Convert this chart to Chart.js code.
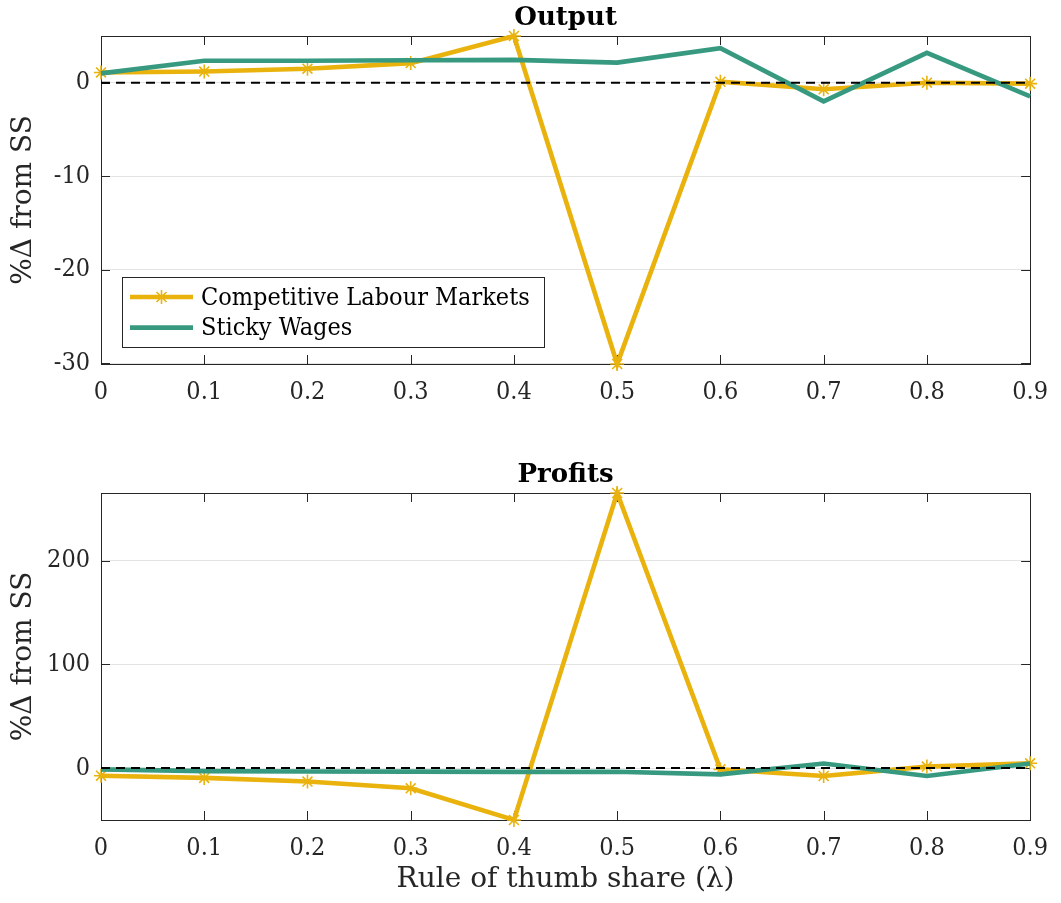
<!DOCTYPE html>
<html>
<head>
<meta charset="utf-8">
<script src="https://cdn.jsdelivr.net/npm/chart.js@4.4.1/dist/chart.umd.min.js"></script>
<style>
  html, body { margin: 0; padding: 0; background: #ffffff; }
  #wrap { position: relative; width: 1061px; height: 903px; overflow: hidden; }
  canvas { position: absolute; left: 0; }
  #outputChart { top: 0; }
  #profitsChart { top: 457px; }
</style>
</head>
<body>
<div id="wrap">
  <canvas id="outputChart" width="1061" height="457"></canvas>
  <canvas id="profitsChart" width="1061" height="446"></canvas>
</div>
<script>
// Rule-of-thumb share on the horizontal axis
const lambdaLabels = ['0', '0.1', '0.2', '0.3', '0.4', '0.5', '0.6', '0.7', '0.8', '0.9'];

// Output, % change from steady state
const outputCompetitive = [1.1, 1.2, 1.5, 2.1, 5.0, -30.1, 0.1, -0.7, 0.0, -0.1];
const outputSticky      = [1.0, 2.35, 2.35, 2.4, 2.45, 2.15, 3.7, -2.0, 3.2, -1.45];

// Profits, % change from steady state
const profitsCompetitive = [-7.4, -9.5, -13.0, -19.5, -50.1, 265.2, -1.3, -7.6, 1.4, 4.6];
const profitsSticky      = [-1.3, -3.0, -3.3, -3.5, -3.7, -3.6, -6.1, 4.4, -7.6, 4.3];

// Steady-state reference line
const steadyState = [0, 0, 0, 0, 0, 0, 0, 0, 0, 0];

// Tick steps for the two value axes
const outputStep = 10;
const profitsStep = 100;

const SERIF_C = '"DejaVu Serif Condensed", "DejaVu Serif", serif';
const SERIF = '"DejaVu Serif", serif';
const TEXT = '#262626';
const YELLOW = '#E9B20C';
const GREEN = '#379A80';

// Eight-ray asterisk marker
function drawAsterisk(ctx, cx, cy, r) {
  ctx.beginPath();
  for (let k = 0; k < 4; k++) {
    const ang = k * Math.PI / 4;
    const dx = Math.cos(ang) * r, dy = Math.sin(ang) * r;
    ctx.moveTo(cx - dx, cy - dy);
    ctx.lineTo(cx + dx, cy + dy);
  }
  ctx.stroke();
}

// Box around the plot area plus inward tick marks on all four sides
const framePlugin = {
  id: 'frame',
  beforeDatasetsDraw(chart) {
    const { ctx, chartArea: a, scales: { x, y } } = chart;
    const T = 9;
    ctx.save();
    ctx.strokeStyle = TEXT;
    ctx.lineWidth = 1;
    ctx.beginPath();
    x.ticks.forEach((t, i) => {
      const px = Math.round(x.getPixelForTick(i)) + 0.5;
      ctx.moveTo(px, a.bottom); ctx.lineTo(px, a.bottom - T);
      ctx.moveTo(px, a.top); ctx.lineTo(px, a.top + T);
    });
    y.ticks.forEach(t => {
      const py = Math.round(y.getPixelForValue(t.value)) + 0.5;
      ctx.moveTo(a.left, py); ctx.lineTo(a.left + T, py);
      ctx.moveTo(a.right, py); ctx.lineTo(a.right - T, py);
    });
    ctx.stroke();
    ctx.strokeRect(Math.round(a.left) + 0.5, Math.round(a.top) + 0.5,
                   Math.round(a.right - a.left), Math.round(a.bottom - a.top));
    ctx.restore();
  }
};

// Framed legend drawn inside the plot area
const boxLegendPlugin = {
  id: 'boxLegend',
  afterDatasetsDraw(chart, args, opts) {
    if (!opts.display) return;
    const { ctx, chartArea: a } = chart;
    const items = chart.data.datasets
      .filter(d => d.legendRank !== undefined)
      .sort((p, q) => p.legendRank - q.legendRank);
    const bx = a.left + opts.left, by = a.top + opts.top;
    ctx.save();
    ctx.fillStyle = '#ffffff';
    ctx.fillRect(bx, by, opts.width, opts.height);
    ctx.strokeStyle = TEXT;
    ctx.lineWidth = 1;
    ctx.strokeRect(Math.round(bx) + 0.5, Math.round(by) + 0.5, opts.width, opts.height);
    ctx.font = opts.fontSize + 'px ' + SERIF_C;
    ctx.textBaseline = 'middle';
    ctx.textAlign = 'left';
    items.forEach((d, i) => {
      const cy = by + opts.rowTop + i * opts.rowGap;
      const x0 = bx + opts.lineStart, x1 = bx + opts.lineEnd;
      ctx.strokeStyle = d.borderColor;
      ctx.lineWidth = d.borderWidth;
      ctx.beginPath();
      ctx.moveTo(x0, cy); ctx.lineTo(x1, cy);
      ctx.stroke();
      if (d.pointRadius > 0) {
        ctx.strokeStyle = d.pointBorderColor;
        ctx.lineWidth = d.pointBorderWidth;
        drawAsterisk(ctx, (x0 + x1) / 2, cy, d.pointRadius);
      }
      ctx.fillStyle = '#000000';
      ctx.fillText(d.label, bx + opts.textStart, cy + 1);
    });
    ctx.restore();
  }
};

function seriesSets(competitive, sticky) {
  return [
    {
      label: 'Steady state', data: steadyState, borderColor: '#000000', borderWidth: 2,
      borderDash: [9, 6], pointRadius: 0, order: 0
    },
    {
      label: 'Sticky Wages', data: sticky, borderColor: GREEN, borderWidth: 4.6,
      pointRadius: 0, order: 1, legendRank: 2, clip: false
    },
    {
      label: 'Competitive Labour Markets', data: competitive, borderColor: YELLOW, borderWidth: 4.6,
      pointStyle: 'star', pointRadius: 7, pointBorderWidth: 1.6,
      pointBorderColor: YELLOW, pointBackgroundColor: YELLOW,
      order: 2, legendRank: 1, clip: false
    }
  ];
}

function makeChart(canvasId, title, competitive, sticky, step, axisHeight, xTitle, legend) {
  const all = competitive.concat(sticky);
  return new Chart(document.getElementById(canvasId), {
    type: 'line',
    data: {
      labels: lambdaLabels,
      datasets: seriesSets(competitive, sticky)
    },
    options: {
      responsive: false,
      animation: false,
      events: [],
      elements: { line: { tension: 0 } },
      layout: { padding: { top: 0, right: 22, bottom: 0, left: 0 } },
      plugins: {
        legend: { display: false },
        tooltip: { enabled: false },
        title: {
          display: true, text: title, fullSize: false, color: '#000000',
          font: { family: SERIF, size: 26, weight: 'bold', lineHeight: 1.2 },
          padding: { top: 3, bottom: 1.8 }
        },
        boxLegend: legend
      },
      scales: {
        x: {
          type: 'category',
          offset: false,
          grid: { display: false, drawTicks: false },
          border: { display: false },
          ticks: {
            autoSkip: false, maxRotation: 0, padding: 13, color: TEXT,
            font: { family: SERIF_C, size: 25 }
          },
          title: {
            display: !!xTitle, text: xTitle || '', color: TEXT,
            font: { family: SERIF, size: 28 },
            padding: { top: 0, bottom: 6 }
          },
          afterFit: s => { s.height = axisHeight; }
        },
        y: {
          type: 'linear',
          min: Math.min(...all),
          max: Math.max(...all),
          grid: { color: '#e4e4e4', lineWidth: 1, drawTicks: false },
          border: { display: false },
          ticks: {
            stepSize: step, includeBounds: false, padding: 11, color: TEXT,
            font: { family: SERIF_C, size: 25 }
          },
          title: {
            display: true, text: '%\u0394 from SS', color: TEXT,
            font: { family: SERIF, size: 28 },
            padding: { top: 7, bottom: 0 }
          },
          afterFit: s => { s.width = 101; }
        }
      }
    },
    plugins: [framePlugin, boxLegendPlugin]
  });
}

makeChart('outputChart', 'Output', outputCompetitive, outputSticky, outputStep, 93, null, {
  display: true, left: 21, top: 241, width: 422, height: 70,
  rowTop: 20, rowGap: 30.6, lineStart: 8, lineEnd: 71, textStart: 79, fontSize: 25
});

makeChart('profitsChart', 'Profits', profitsCompetitive, profitsSticky, profitsStep, 83,
  'Rule of thumb share (\u03bb)', { display: false });
</script>
</body>
</html>
